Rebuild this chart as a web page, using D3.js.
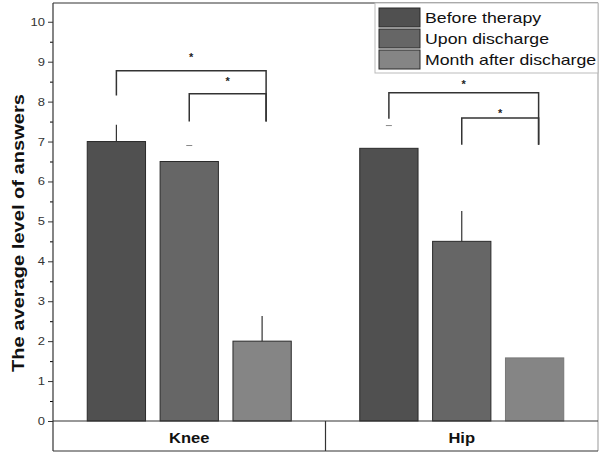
<!DOCTYPE html>
<meta charset="utf-8">
<head>
	<script src="https://cdnjs.cloudflare.com/ajax/libs/d3/7.8.5/d3.min.js"></script>
</head>
<style type="text/css">
	body { margin: 0; background: #fff; font-family: "Liberation Sans", Arial, sans-serif; }
	svg { display: block; }
</style>
<body>
<div id="chart"></div>
<script>
	// data
	var categories = ["Knee", "Hip"];
	var series = ["Before therapy", "Upon discharge", "Month after discharge"];
	var means = [[7.0, 6.5, 2.0], [6.83, 4.5, 1.58]];
	var errUp = [[7.42, null, 2.63], [null, 5.26, null]];   // whisker tops
	var capOnly = [[null, 6.9, null], [7.4, null, null]];    // lone caps
	var yTicks = [0, 1, 2, 3, 4, 5, 6, 7, 8, 9, 10];
	// brackets: [category, fromSeries, toSeries, top, leftEnd, rightEnd, starY]
	var brackets = [
		[0, 0, 2, 8.77, 8.15, 7.5, 9.17],
		[0, 1, 2, 8.2, 7.5, 7.5, 8.57],
		[1, 0, 2, 8.22, 7.57, 6.92, 8.5],
		[1, 1, 2, 7.59, 6.92, 6.92, 7.77]
	];
	var colors = ["#505050", "#666666", "#858585"];

	var W = 600, H = 454;
	var frame = {left: 53, right: 598, top: 3, zero: 421, bottom: 451};
	var stretch = 1.18; // the picture's text is a bit wider than the font

	var svg = d3.select("#chart").append("svg")
		.attr("width", W).attr("height", H);

	function widen(sel) {
		sel.each(function() {
			var len = this.getComputedTextLength();
			d3.select(this).attr("textLength", len * stretch).attr("lengthAdjust", "spacingAndGlyphs");
		});
	}

	var y = d3.scaleLinear().domain([0, 10.47]).range([frame.zero, frame.top]);
	var x0 = d3.scaleBand().domain(categories).range([frame.left, frame.right]);
	var x1 = d3.scaleBand().domain(series).range([0, x0.bandwidth()])
		.paddingInner(0.2).paddingOuter(0.47);

	// frame
	svg.append("line").attr("x1", frame.left).attr("x2", frame.right).attr("y1", frame.top).attr("y2", frame.top)
		.attr("stroke", "#333").attr("stroke-width", 1.2);
	svg.append("line").attr("x1", frame.right).attr("x2", frame.right).attr("y1", frame.top).attr("y2", frame.bottom)
		.attr("stroke", "#999").attr("stroke-width", 1);

	// bars
	var groups = svg.selectAll(".grp")
		.data(categories)
	 .enter().append("g")
		.attr("transform", function(d) { return "translate(" + x0(d) + ",0)"; });

	groups.selectAll("rect")
		.data(function(d, i) { return means[i].map(function(v, j) { return {s: series[j], v: v, j: j, i: i}; }); })
	 .enter().append("rect")
		.attr("x", function(d) { return x1(d.s); })
		.attr("width", x1.bandwidth())
		.attr("y", function(d) { return y(d.v); })
		.attr("height", function(d) { return y(0) - y(d.v); })
		.attr("fill", function(d) { return colors[d.j]; })
		.attr("stroke", function(d) { return (d.i == 1 && d.j == 2) ? "#777" : "#2a2a2a"; })
		.attr("stroke-width", 1);

	// error whiskers and caps
	categories.forEach(function(c, i) {
		series.forEach(function(s, j) {
			var cx = x0(c) + x1(s) + x1.bandwidth() / 2;
			if (errUp[i][j] != null) {
				svg.append("line")
					.attr("x1", cx).attr("x2", cx)
					.attr("y1", y(means[i][j])).attr("y2", y(errUp[i][j]))
					.attr("stroke", "#333").attr("stroke-width", 1.2);
			}
			if (capOnly[i][j] != null) {
				svg.append("line")
					.attr("x1", cx - 3).attr("x2", cx + 3)
					.attr("y1", y(capOnly[i][j])).attr("y2", y(capOnly[i][j]))
					.attr("stroke", "#888").attr("stroke-width", 1);
			}
		});
	});

	// significance brackets
	brackets.forEach(function(b) {
		var c = categories[b[0]];
		var xa = x0(c) + x1(series[b[1]]) + x1.bandwidth() / 2;
		var xb = x0(c) + x1(series[b[2]]) + x1.bandwidth() / 2 + 4;
		svg.append("path")
			.attr("d", "M" + xa + "," + y(b[4]) + "V" + y(b[3]) + "H" + xb + "V" + y(b[5]))
			.attr("fill", "none").attr("stroke", "#333").attr("stroke-width", 1.5);
		svg.append("text")
			.attr("x", (xa + xb) / 2)
			.attr("y", y(b[6]) + 6)
			.attr("text-anchor", "middle")
			.style("font-size", "11px")
			.style("font-weight", "bold")
			.attr("fill", "#222")
			.text("*");
	});

	// y axis
	var yAxis = svg.append("g")
		.attr("transform", "translate(" + frame.left + ",0)")
		.call(d3.axisLeft(y).tickValues(yTicks).tickSize(5).tickSizeOuter(0).tickFormat(d3.format("d")));
	yAxis.select(".domain").remove();
	yAxis.selectAll("text").style("font-size", "11px").attr("fill", "#333")
		.style("font-family", "Liberation Sans, Arial, sans-serif")
		.call(widen);
	yAxis.selectAll(".tick line").attr("stroke", "#333");
	svg.append("g")
		.attr("transform", "translate(" + frame.left + ",0)")
		.call(d3.axisLeft(y).tickValues(d3.range(0.5, 10.5, 1)).tickSize(3).tickFormat(""))
		.select(".domain").remove();
	svg.append("line").attr("x1", frame.left).attr("x2", frame.left).attr("y1", frame.top).attr("y2", frame.bottom)
		.attr("stroke", "#333").attr("stroke-width", 1.2);

	svg.append("text")
		.attr("transform", "translate(24,233) rotate(-90)")
		.attr("text-anchor", "middle")
		.style("font-size", "16px")
		.style("font-weight", "bold")
		.attr("fill", "#111")
		.attr("textLength", 278)
		.attr("lengthAdjust", "spacingAndGlyphs")
		.text("The average level of answers");

	// category box
	svg.append("line").attr("x1", frame.left).attr("x2", frame.right).attr("y1", frame.zero).attr("y2", frame.zero)
		.attr("stroke", "#333").attr("stroke-width", 1.2);
	svg.append("line").attr("x1", frame.left).attr("x2", frame.right).attr("y1", frame.bottom).attr("y2", frame.bottom)
		.attr("stroke", "#333").attr("stroke-width", 1.2);
	svg.append("line").attr("x1", x0("Hip")).attr("x2", x0("Hip")).attr("y1", frame.zero).attr("y2", frame.bottom)
		.attr("stroke", "#333").attr("stroke-width", 1.2);
	svg.selectAll(".cat")
		.data(categories)
	 .enter().append("text")
		.attr("x", function(d) { return x0(d) + x0.bandwidth() / 2; })
		.attr("y", 443)
		.attr("text-anchor", "middle")
		.style("font-size", "14px")
		.style("font-weight", "bold")
		.attr("fill", "#111")
		.text(function(d) { return d; })
		.call(widen);

	// legend
	var lg = svg.append("g").attr("transform", "translate(375,3)");
	lg.append("rect").attr("x", 0).attr("y", 0).attr("width", 223).attr("height", 70)
		.attr("fill", "#fff").attr("stroke", "#bbb").attr("stroke-width", 1);
	var item = lg.selectAll(".item")
		.data(series)
	 .enter().append("g")
		.attr("transform", function(d, i) { return "translate(4," + (5 + i * 21) + ")"; });
	item.append("rect")
		.attr("width", 41).attr("height", 19)
		.attr("fill", function(d, i) { return colors[i]; })
		.attr("stroke", "#2a2a2a").attr("stroke-width", 1);
	item.append("text")
		.attr("x", 46).attr("y", 15)
		.style("font-size", "15px")
		.attr("fill", "#111")
		.text(function(d) { return d; })
		.call(widen);
</script>
</body>
